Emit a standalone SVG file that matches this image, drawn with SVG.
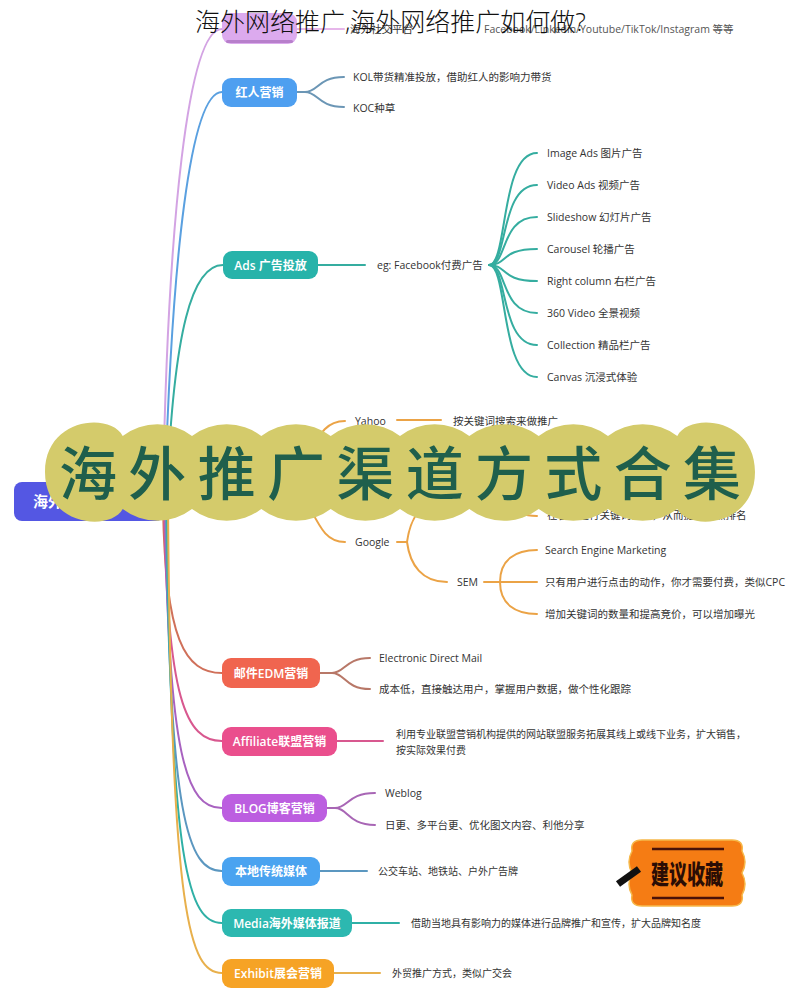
<svg xmlns="http://www.w3.org/2000/svg" width="800" height="1001" viewBox="0 0 800 1001">
<style>
text{font-family:"Open Sans","Noto Sans CJK SC",sans-serif}
.nl{fill:#fff;font-size:12px;font-weight:600;text-anchor:middle;dominant-baseline:central}
.t{fill:#333;font-size:10.5px;dominant-baseline:central}
.ts{fill:#333;font-size:10px;dominant-baseline:central}
.c{fill:none;stroke-width:2;stroke-linecap:round}
</style>
<rect width="800" height="1001" fill="#fff"/>
<g id="connectors">
  <path class="c" stroke="#d3a3e3" d="M163,490 C168,220 188,29 222,29"/>
  <path class="c" stroke="#5aa0e0" d="M165,490 C172,260 190,92 222,92"/>
  <path class="c" stroke="#35ada0" d="M167,490 C174,330 192,265 223,265"/>
  <path class="c" stroke="#d0705a" d="M163,505 C165,640 185,673 222,673"/>
  <path class="c" stroke="#d8588f" d="M164,505 C167,700 186,741 222,741"/>
  <path class="c" stroke="#a862c0" d="M165,505 C168,760 187,808 222,808"/>
  <path class="c" stroke="#5b97c0" d="M166,505 C169,820 188,871 222,871"/>
  <path class="c" stroke="#2fb0a6" d="M167,505 C170,870 189,923 222,923"/>
  <path class="c" stroke="#e8b04c" d="M168,505 C171,920 190,973 222,973"/>
  <path class="c" stroke="#e6b6ea" d="M296,29 L344,29"/>
  <path class="c" stroke="#6b96b5" d="M297,92 L305,92 C318,92 318,77 344,77 M305,92 C318,92 318,107 344,107"/>
  <path class="c" stroke="#35ada0" d="M318,265 L365,265"/>
  <g class="c" stroke="#35ada0">
    <path d="M489,265 C508,265 500,153 537,153"/>
    <path d="M489,265 C508,265 500,185 537,185"/>
    <path d="M489,265 C508,265 500,217 537,217"/>
    <path d="M489,265 C508,265 500,249 537,249"/>
    <path d="M489,265 C508,265 500,281 537,281"/>
    <path d="M489,265 C508,265 500,313 537,313"/>
    <path d="M489,265 C508,265 500,345 537,345"/>
    <path d="M489,265 C508,265 500,377 537,377"/>
  </g>
  <g class="c" stroke="#eba346">
    <path d="M300,470 C318,440 322,421 345,421"/>
    <path d="M397,420 L441,420"/>
    <path d="M300,490 C318,520 322,542 345,542"/>
    <path d="M397,542 L407,542"/>
    <path d="M407,542 C410,520 420,500 445,500"/>
    <path d="M407,542 C410,565 422,582 447,582"/>
    <path d="M490,500 C510,500 510,516 537,516"/>
    <path d="M484,582 L537,582"/>
    <path d="M500,582 C500,560 515,550 537,550"/>
    <path d="M500,582 C500,604 515,614 537,614"/>
  </g>
  <path class="c" stroke="#b87868" d="M320,673 L332,673 C345,673 345,658 370,658 M332,673 C345,673 345,689 370,689"/>
  <path class="c" stroke="#d8588f" d="M337,741 L383,741"/>
  <path class="c" stroke="#a866b5" d="M327,808 L335,808 C348,808 348,793 375,793 M335,808 C348,808 348,825 375,825"/>
  <path class="c" stroke="#5b97c0" d="M320,871 L367,871"/>
  <path class="c" stroke="#2fb0a6" d="M352,923 L399,923"/>
  <path class="c" stroke="#e8b04c" d="M334,973 L380,973"/>
</g>
<g id="node-root"><rect x="14" y="482" width="150" height="39" rx="8" fill="#5457e3"/><text class="nl" x="33" y="501" style="text-anchor:start;font-size:15px;font-weight:700">海外推广</text></g>
<g id="node-social"><rect x="222" y="13" width="75" height="31" rx="9" fill="#dcaaee"/><rect x="226" y="40" width="67" height="3" rx="1.5" fill="#b77fcb"/>
  <text class="t" x="350" y="29" fill="#555">海外社交平台</text>
  <text class="t" x="484" y="29" style="fill:#555">Facebook/Linkedin/Youtube/TikTok/Instagram 等等</text></g>
<g id="node-kol"><rect x="222" y="78" width="75" height="29" rx="9" fill="#4e9ff0"/><text class="nl" x="259.5" y="92.5">红人营销</text>
  <text class="t" x="353" y="77">KOL带货精准投放，借助红人的影响力带货</text>
  <text class="t" x="353" y="108">KOC种草</text></g>
<g id="node-ads"><rect x="223" y="251" width="95" height="28" rx="9" fill="#27b3aa"/><text class="nl" x="270.5" y="265.5">Ads 广告投放</text>
  <text class="t" x="377" y="265">eg: Facebook付费广告</text>
  <text class="t" x="547" y="153">Image Ads 图片广告</text>
  <text class="t" x="547" y="185">Video Ads 视频广告</text>
  <text class="t" x="547" y="217">Slideshow 幻灯片广告</text>
  <text class="t" x="547" y="249">Carousel 轮播广告</text>
  <text class="t" x="547" y="281">Right column 右栏广告</text>
  <text class="t" x="547" y="313">360 Video 全景视频</text>
  <text class="t" x="547" y="345">Collection 精品栏广告</text>
  <text class="t" x="547" y="377">Canvas 沉浸式体验</text></g>
<g id="node-search">
  <text class="t" x="355" y="421">Yahoo</text>
  <text class="t" x="453" y="421">按关键词搜索来做推广</text>
  <text class="t" x="355" y="542">Google</text>
  <text class="t" x="547" y="515">在谷歌进行关键词优化，从而提升自然排名</text>
  <text class="t" x="457" y="582">SEM</text>
  <text class="t" x="545" y="550">Search Engine Marketing</text>
  <text class="t" x="545" y="582">只有用户进行点击的动作，你才需要付费，类似CPC</text>
  <text class="t" x="545" y="614">增加关键词的数量和提高竞价，可以增加曝光</text></g>
<g id="node-edm"><rect x="222" y="658" width="98" height="30" rx="9" fill="#f0654f"/><text class="nl" x="271" y="673.5">邮件EDM营销</text>
  <text class="t" x="379" y="658">Electronic Direct Mail</text>
  <text class="t" x="379" y="689">成本低，直接触达用户，掌握用户数据，做个性化跟踪</text></g>
<g id="node-affiliate"><rect x="222" y="727" width="115" height="29" rx="9" fill="#ea4f8d"/><text class="nl" x="279.5" y="741.5">Affiliate联盟营销</text>
  <text class="ts" x="396" y="734">利用专业联盟营销机构提供的网站联盟服务拓展其线上或线下业务，扩大销售，</text>
  <text class="ts" x="396" y="750">按实际效果付费</text></g>
<g id="node-blog"><rect x="222" y="794" width="105" height="28" rx="9" fill="#bc5ee0"/><text class="nl" x="274.5" y="808.5">BLOG博客营销</text>
  <text class="t" x="385" y="793">Weblog</text>
  <text class="t" x="385" y="825">日更、多平台更、优化图文内容、利他分享</text></g>
<g id="node-local"><rect x="222" y="857" width="98" height="29" rx="9" fill="#4aa3f0"/><text class="nl" x="271" y="871.5">本地传统媒体</text>
  <text class="ts" x="378" y="871">公交车站、地铁站、户外广告牌</text></g>
<g id="node-media"><rect x="222" y="909" width="130" height="28" rx="9" fill="#2cb8b0"/><text class="nl" x="287" y="923.5">Media海外媒体报道</text>
  <text class="ts" x="411" y="923">借助当地具有影响力的媒体进行品牌推广和宣传，扩大品牌知名度</text></g>
<g id="node-exhibit"><rect x="222" y="959" width="112" height="29" rx="9" fill="#f6a325"/><text class="nl" x="278" y="973.5">Exhibit展会营销</text>
  <text class="ts" x="392" y="973">外贸推广方式，类似广交会</text></g>
<g id="banner">
  <path fill="#d4cb6b" d="M122.7,436 A57,57 0 0 1 192,436 A57,57 0 0 1 261.3,436 A57,57 0 0 1 330.7,436 A57,57 0 0 1 400,436 A57,57 0 0 1 469.3,436 A57,57 0 0 1 538.7,436 A57,57 0 0 1 608,436 A57,57 0 0 1 677.3,436 C690,412 755,418 755,472 C755,526 690,532 677.3,509 A57,57 0 0 1 608,509 A57,57 0 0 1 538.7,509 A57,57 0 0 1 469.3,509 A57,57 0 0 1 400,509 A57,57 0 0 1 330.7,509 A57,57 0 0 1 261.3,509 A57,57 0 0 1 192,509 A57,57 0 0 1 122.7,509 C110,532 45,526 45,472 C45,418 110,412 122.7,436 Z"/>
  <text x="88 157.3 226.7 296 365.3 434.7 504 573.3 642.7 712" y="495" text-anchor="middle" font-size="58" font-weight="500" fill="#1f5f4c">海外推广渠道方式合集</text>
</g>
<text x="195" y="31" font-size="25" fill="#111" font-weight="300">海外网络推广,海外网络推广如何做?</text>
<g id="sticker">
  <path fill="#f57c14" stroke="#f6b84a" stroke-width="1.5" d="M642,840 L732,840 Q744,840 742,851 Q748,862 742,873 Q748,884 742,895 Q744,906 732,906 L642,906 Q630,906 632,895 Q626,884 632,873 Q626,862 632,851 Q630,840 642,840 Z"/>
  <path d="M652,849 L724,849 M652,898 L724,898" stroke="#4a1208" stroke-width="2.5"/>
  <text x="651" y="884" font-size="26" font-weight="900" fill="#2a0d05" textLength="72" lengthAdjust="spacingAndGlyphs">建议收藏</text>
  <path d="M618,884 L639,869" stroke="#111" stroke-width="7"/>
</g>
</svg>
